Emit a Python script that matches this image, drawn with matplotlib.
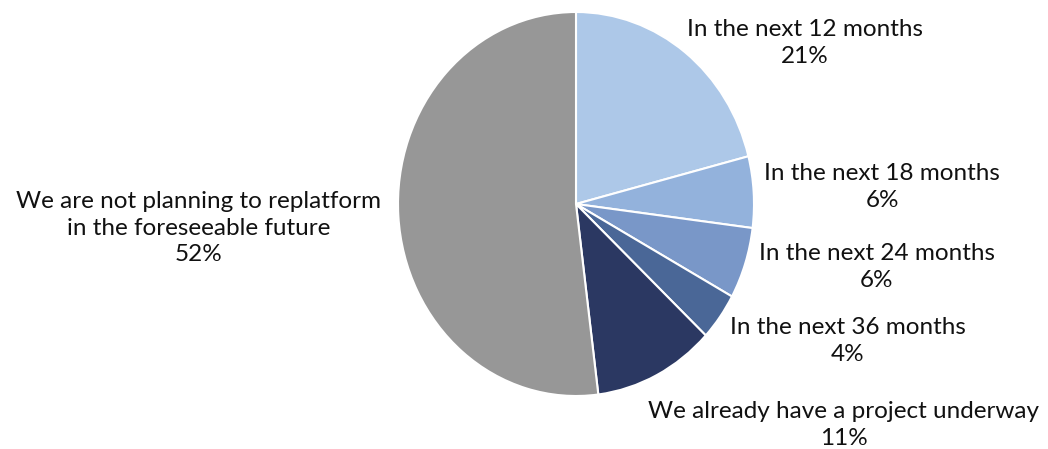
import matplotlib
matplotlib.use("Agg")
import matplotlib.pyplot as plt

labels = ["In the next 12 months", "In the next 18 months", "In the next 24 months",
          "In the next 36 months", "We already have a project underway",
          "We are not planning to replatform\nin the foreseeable future"]
values = [21, 6, 6, 4, 11, 52]
colors = ["#adc8e8", "#93b2dc", "#7997c8", "#4a6797", "#2b3862", "#979797"]

# where each label block sits (data units, pie radius = 1)
label_pos = [(1.287, 0.84), (1.72, 0.09), (1.69, -0.33),
             (1.525, -0.715), (1.505, -1.15), (-2.12, -0.125)]

plt.rcParams["font.family"] = ["Lato", "DejaVu Sans"]

W, H = 1048, 449
fig = plt.figure(figsize=(W / 100, H / 100), dpi=100)
ax = fig.add_axes([0, 0, 1, 1])

ax.pie(values, colors=colors, startangle=90, counterclock=False,
       wedgeprops=dict(edgecolor="white", linewidth=1.5))

# pie centre at pixel (576, 204), radii 178 px across and 192 px down
cx, cy, rx, ry = 576, 204, 178, 192
ax.set_aspect("auto")
ax.set_xlim(-cx / rx, (W - cx) / rx)
ax.set_ylim(-(H - cy) / ry, cy / ry)
ax.axis("off")

for lab, v, (x, y) in zip(labels, values, label_pos):
    ax.text(x, y, f"{lab}\n{v}%", ha="center", va="center",
            fontsize=17.5, color="#111111", linespacing=1.35)

fig.savefig("out.png", dpi=100)
